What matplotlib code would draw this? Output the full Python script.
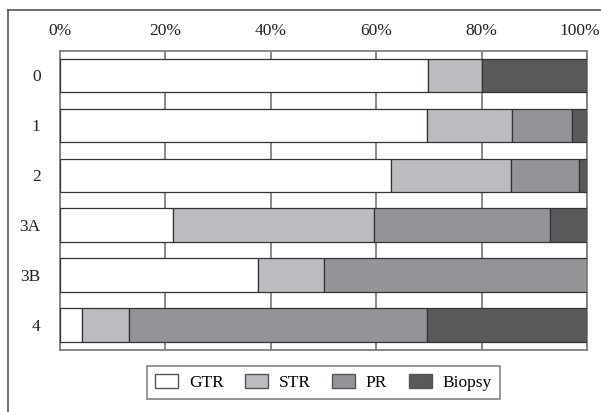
import matplotlib
matplotlib.use("Agg")
import matplotlib.pyplot as plt
import matplotlib.transforms as mtransforms
from matplotlib.lines import Line2D
import numpy as np

# grade categories and percentage of each resection type
categories = ['0', '1', '2', '3A', '3B', '4']
gtr = [69.8, 69.7, 62.9, 21.4, 37.5, 4.2]
str_ = [10.2, 16.0, 22.7, 38.2, 12.5, 8.8]
pr = [0.0, 11.4, 12.9, 33.3, 50.0, 56.6]
biopsy = [20.0, 2.9, 1.5, 7.1, 0.0, 30.4]

series = ['GTR', 'STR', 'PR', 'Biopsy']
colors = ['#ffffff', '#bbbcc0', '#939498', '#58595b']
xticks = [0, 20, 40, 60, 80, 100]
xticklabels = ['0%', '20%', '40%', '60%', '80%', '100%']

plt.rcParams['font.family'] = ['Liberation Serif', 'DejaVu Serif']

fig = plt.figure(figsize=(6.01, 4.12), dpi=100)
ax = fig.add_axes([60 / 601, 1 - 350 / 412, 527 / 601, 299.5 / 412])

y = np.arange(len(categories))
left = np.zeros(len(categories))
for name, vals, c in zip(series, [gtr, str_, pr, biopsy], colors):
    vals = np.array(vals)
    ax.barh(y, vals, left=left, height=0.67, color=c, edgecolor='#333333',
            linewidth=0.9, label=name, zorder=3)
    left += vals

ax.set_xlim(0, 100)
ax.set_ylim(len(categories) - 0.5, -0.5)
ax.set_yticks(y)
ax.set_yticklabels(categories)
ax.set_xticks(xticks)
ax.set_xticklabels(xticklabels)
ax.xaxis.tick_top()
ax.tick_params(axis='both', length=0, labelsize=12.5, colors='#222222')
ax.tick_params(axis='x', pad=8)
ax.tick_params(axis='y', pad=14)
ax.xaxis.grid(True, color='#808080', linewidth=1.3, zorder=0)
ax.set_axisbelow(True)
for s in ax.spines.values():
    s.set_color('#808080')
    s.set_linewidth(1.3)

# keep the 100% label inside the image like the original
lab = ax.get_xticklabels()[-1]
lab.set_transform(lab.get_transform() + mtransforms.ScaledTranslation(-7 / 100, 0, fig.dpi_scale_trans))

leg = fig.legend(loc='center', bbox_to_anchor=(323.5 / 601, 1 - 382.5 / 412), ncol=4,
                 fontsize=12.5, frameon=True, fancybox=False, edgecolor='#666666',
                 handlelength=1.3, handleheight=0.86, handletextpad=0.63,
                 columnspacing=1.25, borderpad=0.45)
leg.get_frame().set_linewidth(1.2)
for h in leg.legend_handles:
    h.set_edgecolor('#555555')
    h.set_linewidth(1.0)

# outer frame (only top and left visible in the reference)
fig.add_artist(Line2D([8 / 601, 8 / 601], [0, 1 - 9.5 / 412], color='#555555', linewidth=1.2))
fig.add_artist(Line2D([8 / 601, 1], [1 - 9.5 / 412, 1 - 9.5 / 412], color='#555555', linewidth=1.2))

fig.savefig('out.png', dpi=100)
